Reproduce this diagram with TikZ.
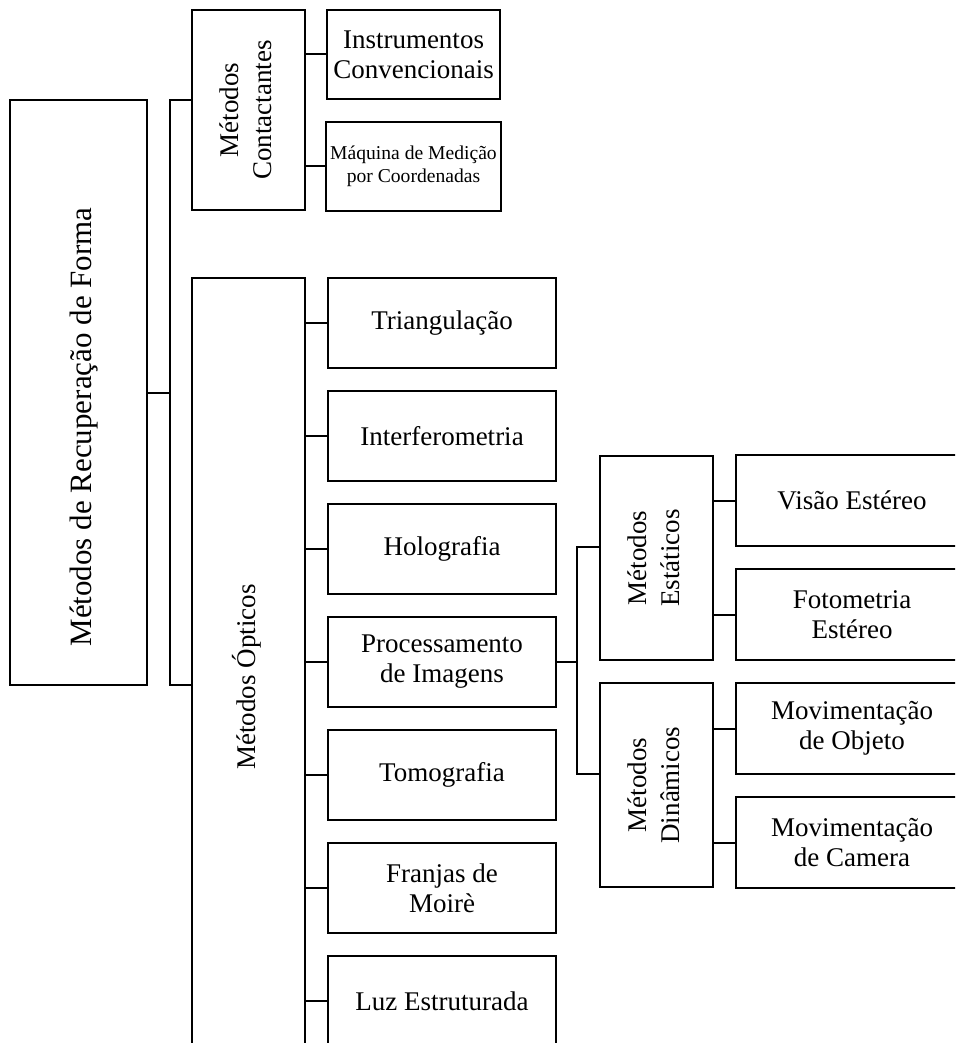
\documentclass[tikz,border=0pt]{standalone}
\usepackage{fontspec}
\setmainfont{Liberation Serif}
\usetikzlibrary{positioning}
\newcommand{\vtxt}[1]{\rotatebox{90}{\begin{tabular}{@{}c@{}}#1\end{tabular}}}

\begin{document}
\begin{tikzpicture}[x=0.5pt, y=-0.5pt,
  font=\fontsize{13.5}{15}\selectfont, line width=1pt,
  box/.style={draw, outer sep=0pt, inner sep=2pt, align=center},
  grp/.style={box, minimum width=56.5pt, font=\fontsize{13.5}{16.5}\selectfont},
  opt/.style={box, minimum width=114pt, minimum height=45pt},
  cnt/.style={box, minimum width=86.5pt, minimum height=44.5pt},
  fin/.style={box, minimum width=116pt, minimum height=45.5pt}]
\useasboundingbox (0,0) rectangle (955,1043);
\clip (0,0) rectangle (955,1043);
\node[box, minimum width=68.5pt, minimum height=292.5pt] (main) at (78.5,392.5) {};
\node[rotate=90, font=\fontsize{15.5}{18}\selectfont] (mainlbl) at (84,427) {Métodos de Recuperação de Forma};
\node[grp, minimum height=100pt] (cont) at (248,110) {\vtxt{Métodos\\Contactantes}};
\node[grp, minimum height=399pt] (optc) at (248.5,677) {\vtxt{Métodos Ópticos}};
\node[cnt] (inst) at (413.5,54.5) {Instrumentos\\Convencionais};
\node[cnt, below=11.5pt of inst, font=\fontsize{9.8}{11.7}\selectfont] (maq) {Máquina de Medição\\por Coordenadas};
\node[opt] (tri) at (442,323) {Triangulação};
\node[opt, below=11.5pt of tri] (interf) {Interferometria};
\node[opt, below=11.5pt of interf] (holo) {Holografia};
\node[opt, below=11.5pt of holo] (proc) {Processamento\\de Imagens};
\node[opt, below=11.5pt of proc] (tomo) {Tomografia};
\node[opt, below=11.5pt of tomo] (franj) {Franjas de\\Moirè};
\node[opt, below=11.5pt of franj] (luz) {Luz Estruturada};
\node[grp, minimum height=102pt] (est) at (656.5,558) {\vtxt{Métodos\\Estáticos}};
\node[grp, minimum height=102pt, below=11.5pt of est] (din) {\vtxt{Métodos\\Dinâmicos}};
\node[fin] (vis) at (852,500.5) {Visão Estéreo};
\node[fin, below=11.5pt of vis] (foto) {Fotometria\\Estéreo};
\node[fin, below=11.5pt of foto] (obj) {Movimentação\\de Objeto};
\node[fin, below=11.5pt of obj] (cam) {Movimentação\\de Camera};
\coordinate[right=11.5pt of main] (bus);
\draw (main.east) -- (bus);
\draw (cont.west |- main.north) -| (bus) |- (optc.west |- main.south);
\draw (cont.east |- inst.west) -- (inst.west);
\draw (cont.east |- maq.west) -- (maq.west);
\draw (optc.east |- tri.west) -- (tri.west);
\draw (optc.east |- interf.west) -- (interf.west);
\draw (optc.east |- holo.west) -- (holo.west);
\draw (optc.east |- proc.west) -- (proc.west);
\draw (optc.east |- tomo.west) -- (tomo.west);
\draw (optc.east |- franj.west) -- (franj.west);
\draw (optc.east |- luz.west) -- (luz.west);
\coordinate[right=10.5pt of proc] (pb);
\draw (proc.east) -- (pb);
\draw (est.west |- 0,547) -| (pb) |- (din.west |- 0,774);
\draw (est.east |- vis.west) -- (vis.west);
\draw (est.east |- foto.west) -- (foto.west);
\draw (din.east |- obj.west) -- (obj.west);
\draw (din.east |- cam.west) -- (cam.west);
\end{tikzpicture}
\end{document}
